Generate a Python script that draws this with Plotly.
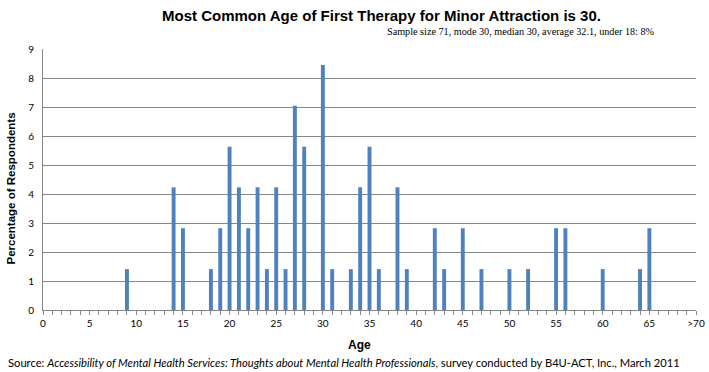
import plotly.graph_objects as go

ages = [9, 14, 15, 18, 19, 20, 21, 22, 23, 24, 25, 26, 27, 28, 30, 31, 33, 34, 35, 36,
        38, 39, 42, 43, 45, 47, 50, 52, 55, 56, 60, 64, 65]
percent = [1.41, 4.23, 2.82, 1.41, 2.82, 5.63, 4.23, 2.82, 4.23, 1.41, 4.23, 1.41, 7.04, 5.63,
           8.45, 1.41, 1.41, 4.23, 5.63, 1.41, 4.23, 1.41, 2.82, 1.41, 2.82, 1.41, 1.41, 1.41,
           2.82, 2.82, 1.41, 1.41, 2.82]
x_tickvals = [0, 5, 10, 15, 20, 25, 30, 35, 40, 45, 50, 55, 60, 65, 70]
x_ticktext = ["0", "5", "10", "15", "20", "25", "30", "35", "40", "45", "50", "55", "60", "65", ">70"]

title_text = "Most Common Age of First Therapy for Minor Attraction is 30."
subtitle_text = "Sample size 71, mode 30, median 30, average 32.1, under 18: 8%"
source_text = ("Source: <i>Accessibility of Mental Health Services: Thoughts about Mental Health "
               "Professionals</i>, survey conducted by B4U-ACT, Inc., March 2011")

grid = "#868686"
sans = "Lato, 'Open Sans', sans-serif"
arial = "'Liberation Sans', Arial, sans-serif"

fig = go.Figure()
fig.add_trace(go.Bar(x=ages, y=percent, width=0.42, marker=dict(color="#4F81BD", line=dict(width=0))))

fig.update_layout(
    width=709, height=372,
    margin=dict(l=43, r=13, t=49, b=62, autoexpand=False),
    paper_bgcolor="white", plot_bgcolor="white",
    showlegend=False,
    font=dict(family=sans, size=10, color="black"),
)
fig.update_xaxes(
    range=[0, 70], tickmode="array", tickvals=x_tickvals, ticktext=x_ticktext,
    automargin=False,
    showgrid=False, zeroline=False,
    showline=True, linecolor=grid, linewidth=1,
    ticks="outside", ticklen=4, tickcolor=grid,
    minor=dict(dtick=1, ticks="outside", ticklen=4, tickcolor=grid, showgrid=False),
    tickfont=dict(size=10, family=sans),
)
fig.update_yaxes(
    range=[0, 9], dtick=1, showgrid=True, gridcolor=grid, gridwidth=1,
    automargin=False,
    zeroline=False, showline=True, linecolor=grid, linewidth=1,
    ticks="", ticklabelstandoff=6, tickfont=dict(size=10, family=sans),
)

fig.add_annotation(text="<b>Age</b>", xref="paper", yref="paper", x=0.5, y=0, xshift=-10, yshift=-35,
                   showarrow=False, xanchor="center", yanchor="middle",
                   font=dict(family=arial, size=12))
fig.add_annotation(text="<b>Percentage of Respondents</b>", xref="paper", yref="paper",
                   x=0, y=0.5, xshift=-33, yshift=-9, textangle=-90, showarrow=False,
                   xanchor="center", yanchor="middle", font=dict(family=arial, size=11.5))
fig.add_annotation(text="<b>" + title_text + "</b>", xref="paper", yref="paper",
                   x=0.5, y=1.0, xshift=12, yshift=34, showarrow=False, xanchor="center", yanchor="middle",
                   font=dict(family=arial, size=15))
fig.add_annotation(text=subtitle_text, xref="paper", yref="paper",
                   x=0.94, y=1.0, yshift=18, showarrow=False, xanchor="right", yanchor="middle",
                   font=dict(family="'Liberation Serif', serif", size=10.2))
fig.add_annotation(text=source_text, xref="paper", yref="paper",
                   x=0, y=0, xshift=-37, yshift=-52, showarrow=False, xanchor="left", yanchor="middle",
                   font=dict(family=sans, size=11.2))

fig.write_html("out.html", config={"displayModeBar": False},
               post_script="document.body.style.margin='0';")
